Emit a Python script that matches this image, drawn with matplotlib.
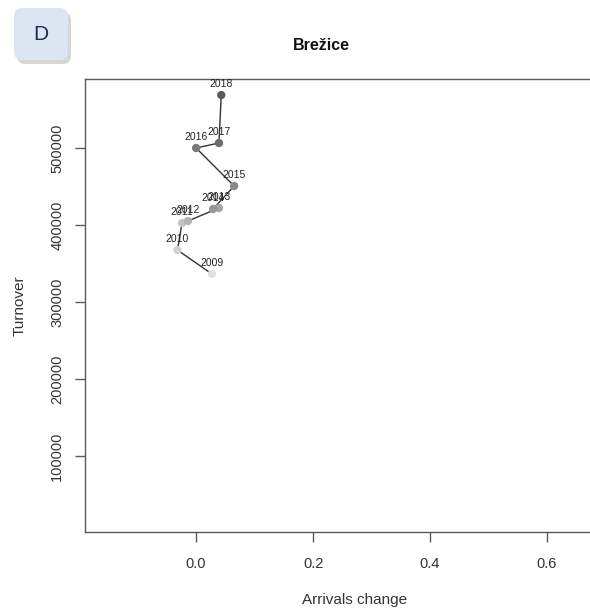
import matplotlib
matplotlib.use("Agg")
import matplotlib.pyplot as plt
from matplotlib.patches import FancyBboxPatch
import numpy as np

plt.rcParams['font.family'] = ['Liberation Sans', 'DejaVu Sans']

years = ["2009", "2010", "2011", "2012", "2013", "2014", "2015", "2016", "2017", "2018"]
arrivals_change = [0.027, -0.032, -0.024, -0.014, 0.039, 0.029, 0.065, 0.0, 0.039, 0.043]
turnover = [336400, 367500, 402600, 405200, 422100, 420800, 450600, 500000, 506500, 568800]
x_ticks = [0.0, 0.2, 0.4, 0.6]
y_ticks = [100000, 200000, 300000, 400000, 500000]

W, H = 590, 610
fig = plt.figure(figsize=(W/100, H/100), dpi=100)

left, right, top, bottom = 85, 625, 79, 532
ax = fig.add_axes([left/W, 1 - bottom/H, (right-left)/W, (bottom-top)/H])

n = len(years)
greys = np.linspace(0.88, 0.36, n)
colors = [(g, g, g) for g in greys]

ax.plot(arrivals_change, turnover, color='#333333', lw=1.0, zorder=2)
ax.scatter(arrivals_change, turnover, c=colors, s=36, zorder=3, edgecolors='none')
for x, y, lab in zip(arrivals_change, turnover, years):
    ax.annotate(lab, (x, y), xytext=(0, 4), textcoords='offset points',
                ha='center', va='bottom', fontsize=7.5, color='#222222', zorder=4)

ax.set_xlim(-0.19, (right - 196) / 585)
ax.set_ylim(1300, 589600)
ax.set_xticks(x_ticks)
ax.set_xticklabels([f"{t:.1f}" for t in x_ticks])
ax.set_yticks(y_ticks)
ax.set_yticklabels([str(t) for t in y_ticks], rotation=90, va='center')

for s in ['left', 'bottom', 'top', 'right']:
    ax.spines[s].set_color('#5a5a5a')
    ax.spines[s].set_linewidth(1.0)
ax.tick_params(axis='both', direction='out', length=7, width=1, color='#5a5a5a',
               labelsize=10.5, labelcolor='#333333')
ax.tick_params(axis='x', pad=11)
ax.tick_params(axis='y', pad=8)

ax.set_xlabel("Arrivals change", fontsize=11, color='#333333', labelpad=16)
ax.set_ylabel("Turnover", fontsize=11, color='#333333', labelpad=17)

fig.text(321/W, 1 - 45/H, "Brežice", ha='center', va='center', fontsize=11.5,
         fontweight='bold', color='#111111')

# badge
bx, by, bw, bh = 14, 8, 54, 52
sh = FancyBboxPatch(((bx+3)/W, 1-(by+bh+4)/H), bw/W, bh/H,
                    boxstyle="round,pad=0,rounding_size=0.014",
                    transform=fig.transFigure, facecolor='#bbbbbb', edgecolor='none',
                    alpha=0.6, zorder=0)
fig.patches.append(sh)
badge = FancyBboxPatch((bx/W, 1-(by+bh)/H), bw/W, bh/H,
                       boxstyle="round,pad=0,rounding_size=0.014",
                       transform=fig.transFigure, facecolor='#dce6f2', edgecolor='none',
                       zorder=1)
fig.patches.append(badge)
fig.text((bx+bw/2)/W, 1-(by+bh/2)/H, "D", ha='center', va='center', fontsize=15,
         color='#1a2a5a')

fig.savefig("out.png", dpi=100)
